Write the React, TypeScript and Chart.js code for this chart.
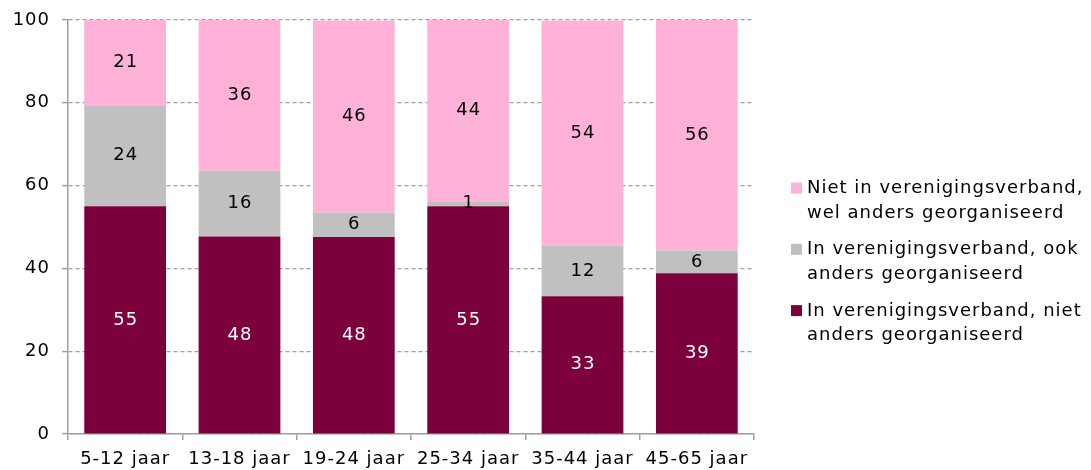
import React, { useEffect, useRef } from "react";
import { Chart, registerables } from "chart.js";

Chart.register(...registerables);

const categories = ["5-12 jaar", "13-18 jaar", "19-24 jaar", "25-34 jaar", "35-44 jaar", "45-65 jaar"];
const inVerenigingNiet = [55.0, 47.7, 47.6, 55.0, 33.3, 38.8];
const inVerenigingOok = [24.4, 15.9, 5.9, 1.2, 12.2, 5.5];
const nietInVereniging = [20.6, 36.4, 46.4, 43.8, 54.4, 55.7];
const yTicks = [0, 20, 40, 60, 80, 100];

const seriesNames = [
  ["In verenigingsverband, niet", "anders georganiseerd"],
  ["In verenigingsverband, ook", "anders georganiseerd"],
  ["Niet in verenigingsverband,", "wel anders georganiseerd"],
];
const colors = ["#7B003C", "#C0C0C0", "#FFB1D8"];
const labelColors = ["#FFFFFF", "#000000", "#000000"];

const FONT = "'DejaVu Sans', sans-serif";

const spacing = {
  id: "spacing",
  beforeUpdate(chart: any) { chart.ctx.letterSpacing = "1px"; },
  beforeDraw(chart: any) { chart.ctx.letterSpacing = "1px"; },
};

const valueLabels = {
  id: "valueLabels",
  afterDatasetsDraw(chart: any) {
    const ctx = chart.ctx;
    ctx.save();
    ctx.letterSpacing = "1px";
    ctx.font = `18px ${FONT}`;
    ctx.textAlign = "center";
    ctx.textBaseline = "middle";
    chart.data.datasets.forEach((ds: any, di: number) => {
      const meta = chart.getDatasetMeta(di);
      meta.data.forEach((bar: any, i: number) => {
        const v = ds.data[i];
        const y = (bar.y + bar.base) / 2;
        ctx.fillStyle = labelColors[di];
        ctx.fillText(String(Math.round(v)), bar.x + 0.5, y);
      });
    });
    ctx.restore();
  },
};

const sideLegend = {
  id: "sideLegend",
  afterDraw(chart: any) {
    const ctx = chart.ctx;
    ctx.save();
    ctx.letterSpacing = "1px";
    ctx.font = `18px ${FONT}`;
    ctx.textAlign = "left";
    ctx.textBaseline = "alphabetic";
    const order = [2, 1, 0];
    const baseY = 193;
    order.forEach((di, k) => {
      const y = baseY + k * 61.3;
      ctx.fillStyle = colors[di];
      ctx.fillRect(791, y - 10.5, 11, 11);
      ctx.fillStyle = "#000000";
      seriesNames[di].forEach((line, li) => {
        ctx.fillText(line, 807, y + li * 24.5);
      });
    });
    ctx.restore();
  },
};

export default function App() {
  const ref = useRef<HTMLCanvasElement | null>(null);
  useEffect(() => {
    document.body.style.margin = "0";
    const canvas = ref.current!;
    const chart = new Chart(canvas, {
      type: "bar",
      data: {
        labels: categories,
        datasets: [inVerenigingNiet, inVerenigingOok, nietInVereniging].map((d, i) => ({
          label: seriesNames[i].join(" "),
          data: d,
          backgroundColor: colors[i],
          borderWidth: 0,
          barPercentage: 0.715,
          categoryPercentage: 1,
        })),
      },
      options: {
        animation: false,
        responsive: false,
        maintainAspectRatio: false,
        layout: { padding: { left: 0, right: 337, top: 20, bottom: 0 } },
        plugins: { legend: { display: false }, tooltip: { enabled: false } },
        scales: {
          x: {
            stacked: true,
            afterFit: (s: any) => { s.height = 36; s.paddingLeft = 0; s.paddingRight = 0; s.paddingTop = 0; s.paddingBottom = 0; },
            grid: { drawOnChartArea: false, drawTicks: true, tickLength: 6, color: "#A0A0A0", lineWidth: 1.5, offset: true },
            border: { display: true, color: "#A0A0A0", width: 1.5 },
            ticks: { color: "#000000", font: { family: FONT, size: 18 }, padding: 9, maxRotation: 0, autoSkip: false },
          },
          y: {
            stacked: true,
            min: 0,
            max: 100,
            afterFit: (s: any) => { s.width = 68; s.paddingTop = 0; s.paddingBottom = 0; s.paddingLeft = 0; s.paddingRight = 0; },
            afterBuildTicks: (s: any) => { s.ticks = yTicks.map((v) => ({ value: v })); },
            grid: { color: "#A0A0A0", lineWidth: 1.2, drawTicks: true, tickLength: 6, tickColor: "#A0A0A0", tickWidth: 1.5 },
            border: { display: true, color: "#A0A0A0", width: 1.5, dash: [4, 3] },
            ticks: { color: "#000000", font: { family: FONT, size: 18 }, padding: 12 },
          },
        },
      },
      plugins: [spacing, valueLabels, sideLegend],
    });
    return () => chart.destroy();
  }, []);
  return <canvas ref={ref} width={1091} height={470} style={{ display: "block" }} />;
}
